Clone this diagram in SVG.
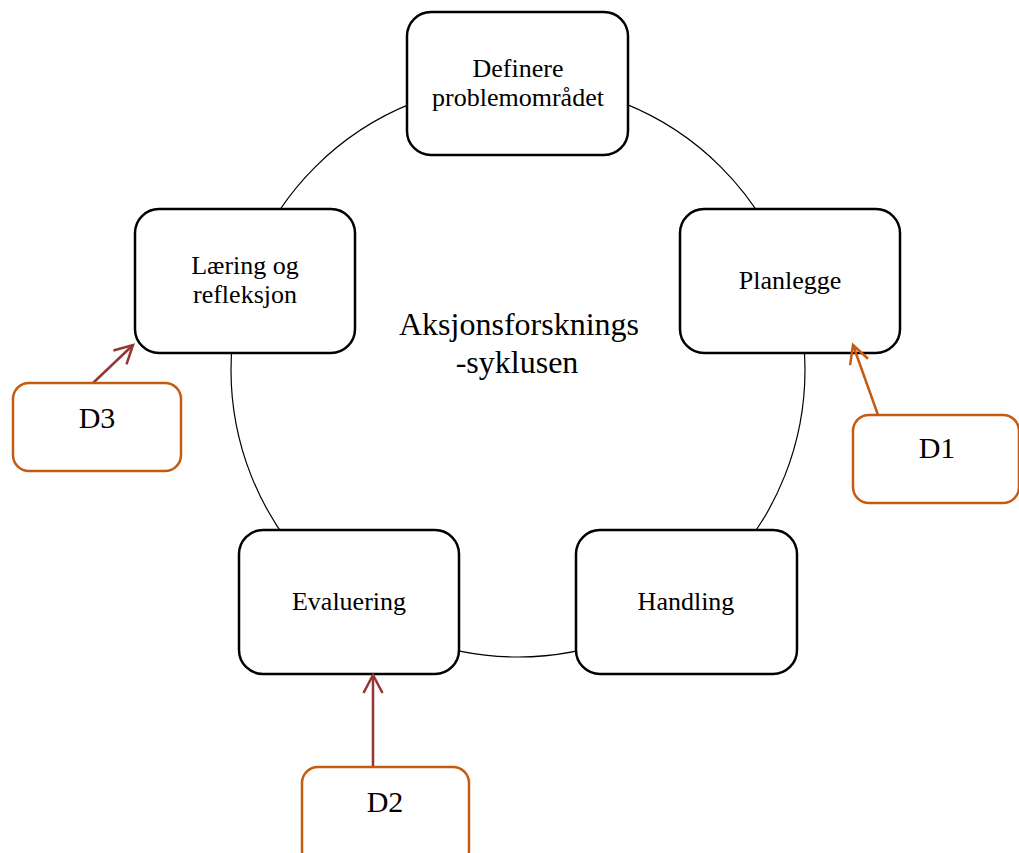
<svg xmlns="http://www.w3.org/2000/svg" width="1019" height="853" viewBox="0 0 1019 853">
  <style>
    .step rect { fill: #fff; stroke: #000; stroke-width: 2.5; }
    .doc rect { fill: #fff; stroke: #C55A11; stroke-width: 2.5; }
    text { font-family: "Liberation Serif", "Times New Roman", serif; fill: #000; text-anchor: middle; }
    .lbl { font-size: 26px; }
    .dlbl { font-size: 30px; }
    .ring { fill: none; stroke: #000; stroke-width: 1.2; }
    .link { fill: none; stroke-width: 2.5; }
  </style>
  <defs>
    <marker id="headRed" markerUnits="userSpaceOnUse" markerWidth="24" markerHeight="24" viewBox="-20 -12 24 24" refX="0" refY="0" orient="auto">
      <path d="M-18,-9.5 L0,0 L-18,9.5" fill="none" stroke="#943634" stroke-width="2.5"/>
    </marker>
    <marker id="headOrange" markerUnits="userSpaceOnUse" markerWidth="24" markerHeight="24" viewBox="-20 -12 24 24" refX="0" refY="0" orient="auto">
      <path d="M-18,-9.5 L0,0 L-18,9.5" fill="none" stroke="#C55A11" stroke-width="2.5"/>
    </marker>
  </defs>

  <!-- cycle ring behind the steps -->
  <circle class="ring" cx="518" cy="370" r="287"/>

  <text x="519" y="335" style="font-size:32px">Aksjonsforsknings</text>
  <text x="517" y="373" style="font-size:32px">-syklusen</text>

  <g id="definere" class="step">
    <rect x="407" y="12" width="221" height="143" rx="24"/>
    <text class="lbl" x="518" y="77">Definere</text>
    <text class="lbl" x="518" y="106">problemområdet</text>
  </g>
  <g id="planlegge" class="step">
    <rect x="680" y="209" width="220" height="144" rx="24"/>
    <text class="lbl" x="790" y="289">Planlegge</text>
  </g>
  <g id="handling" class="step">
    <rect x="576" y="530" width="221" height="144" rx="24"/>
    <text class="lbl" x="686" y="610">Handling</text>
  </g>
  <g id="evaluering" class="step">
    <rect x="239" y="530" width="220" height="144" rx="24"/>
    <text class="lbl" x="349" y="610">Evaluering</text>
  </g>
  <g id="laering" class="step">
    <rect x="135" y="209" width="220" height="144" rx="24"/>
    <text class="lbl" x="245" y="274">Læring og</text>
    <text class="lbl" x="245" y="303">refleksjon</text>
  </g>

  <g id="connectors">
    <line class="link" x1="878" y1="415" x2="853" y2="345" stroke="#C55A11" marker-end="url(#headOrange)"/>
    <line class="link" x1="373" y1="767" x2="373" y2="675" stroke="#943634" marker-end="url(#headRed)"/>
    <line class="link" x1="93" y1="383" x2="133" y2="345" stroke="#943634" marker-end="url(#headRed)"/>
  </g>

  <g id="d1" class="doc">
    <rect x="853" y="415" width="166" height="88" rx="16"/>
    <text class="dlbl" x="937" y="458">D1</text>
  </g>
  <g id="d2" class="doc">
    <rect x="302" y="767" width="167" height="100" rx="16"/>
    <text class="dlbl" x="385" y="812">D2</text>
  </g>
  <g id="d3" class="doc">
    <rect x="13" y="383" width="168" height="88" rx="16"/>
    <text class="dlbl" x="97" y="428">D3</text>
  </g>
</svg>
